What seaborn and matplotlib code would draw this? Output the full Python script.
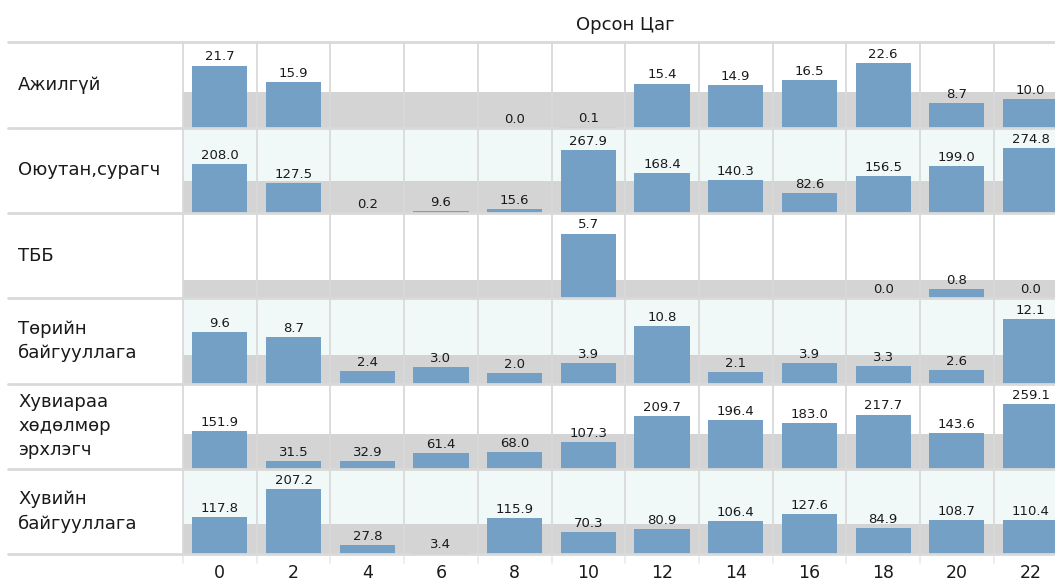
import numpy as np
import pandas as pd
import matplotlib
matplotlib.use("Agg")
import matplotlib.pyplot as plt
from matplotlib.lines import Line2D
import matplotlib.transforms as mtransforms
import seaborn as sns

nan = np.nan

hours = [0, 2, 4, 6, 8, 10, 12, 14, 16, 18, 20, 22]
row_labels = ["Ажилгүй", "Оюутан,сурагч", "ТББ", "Төрийн\nбайгууллага",
              "Хувиараа\nхөдөлмөр\nэрхлэгч", "Хувийн\nбайгууллага"]

unemployed = [21.7, 15.9, nan, nan, 0.0, 0.1, 15.4, 14.9, 16.5, 22.6, 8.7, 10.0]
students = [208.0, 127.5, 0.2, 9.6, 15.6, 267.9, 168.4, 140.3, 82.6, 156.5, 199.0, 274.8]
ngo = [nan, nan, nan, nan, nan, 5.7, nan, nan, nan, 0.0, 0.8, 0.0]
government = [9.6, 8.7, 2.4, 3.0, 2.0, 3.9, 10.8, 2.1, 3.9, 3.3, 2.6, 12.1]
self_employed = [151.9, 31.5, 32.9, 61.4, 68.0, 107.3, 209.7, 196.4, 183.0, 217.7, 143.6, 259.1]
private_org = [117.8, 207.2, 27.8, 3.4, 115.9, 70.3, 80.9, 106.4, 127.6, 84.9, 108.7, 110.4]

series = [unemployed, students, ngo, government, self_employed, private_org]

sns.set_style("white")
plt.rcParams["font.family"] = ["DejaVu Sans"]

W, H = 1055, 585
fig = plt.figure(figsize=(W / 100, H / 100), dpi=100)

BAR = "#74a0c6"
BAND = "#d4d4d4"
GRID = "#d9d9d9"
ALT = "#f0f8f8"
TXT = "#1a1a1a"

left_px = 183.0
col_w = 73.7
top_px = 42.3
row_h = 85.3
n_cols = len(hours)
hour_labels = [str(h) for h in hours]

axes = []
for r, vals in enumerate(series):
    y0 = top_px + r * row_h
    ax = fig.add_axes([left_px / W, 1 - (y0 + row_h) / H, n_cols * col_w / W, row_h / H])
    axes.append(ax)
    ax.set_facecolor(ALT if r % 2 == 1 else "white")
    df = pd.DataFrame({"hour": hour_labels, "value": vals}).dropna()
    vmax = np.nanmax(vals)
    mean = np.nanmean(vals)
    ax.axhspan(0, mean, color=BAND, zorder=0.5, lw=0)
    sns.barplot(data=df, x="hour", y="value", order=hour_labels, color=BAR,
                saturation=1, width=0.75, errorbar=None, ax=ax, zorder=2,
                linewidth=0, edgecolor=BAR)
    ax.set_xlim(-0.5, n_cols - 0.5)
    ax.set_ylim(0, vmax * 1.32)
    for i, v in enumerate(vals):
        if not np.isnan(v):
            ax.annotate(f"{v:.1f}", (i, v), xytext=(0, 1.5), textcoords="offset points",
                        ha="center", va="bottom", fontsize=9.5, color=TXT, zorder=3)
    for k in range(n_cols + 1):
        ax.axvline(k - 0.5, color=GRID, lw=1.3, zorder=1, clip_on=False)
    for s in ax.spines.values():
        s.set_visible(False)
    ax.set_ylabel("")
    ax.set_xlabel("")
    ax.set_yticks([])
    ax.tick_params(axis="x", length=0)
    if r < len(series) - 1:
        ax.set_xticklabels([])
    else:
        ax.set_xticks(range(n_cols))
        ax.set_xticklabels(hour_labels, fontsize=12.5, color=TXT)
        ax.tick_params(axis="x", pad=7)
        trans = mtransforms.blended_transform_factory(ax.transData, ax.transAxes)
        for k in range(n_cols + 1):
            ax.plot([k - 0.5, k - 0.5], [0, -0.1], transform=trans, color="#ececec",
                    lw=1.3, clip_on=False)
    fig.text(18 / W, 1 - (y0 + row_h / 2) / H, row_labels[r], ha="left", va="center",
             fontsize=13, color=TXT, linespacing=1.45)

for i in range(len(series) + 1):
    y = 1 - (top_px + i * row_h) / H
    fig.add_artist(Line2D([8 / W, 1], [y, y], transform=fig.transFigure,
                          color=GRID, lw=2, zorder=5))

fig.text((left_px + 6 * col_w) / W, 1 - 25 / H, "Орсон Цаг", ha="center", va="center",
         fontsize=13, color=TXT)

fig.savefig("out.png", dpi=100)
